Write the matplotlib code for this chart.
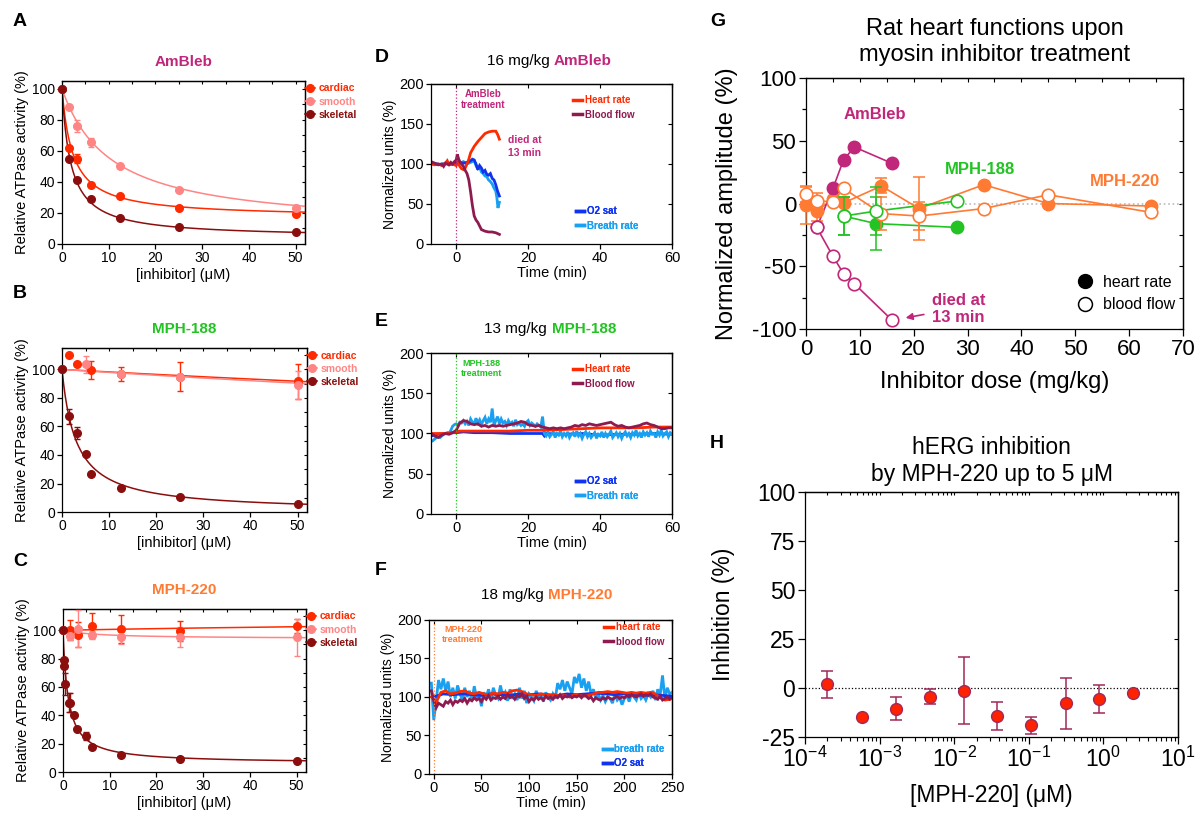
import numpy as np
import matplotlib
matplotlib.use("Agg")
import matplotlib.pyplot as plt
from matplotlib.lines import Line2D
from matplotlib.ticker import LogLocator, NullFormatter, MultipleLocator

plt.rcParams['font.family'] = ['Liberation Sans', 'DejaVu Sans']
plt.rcParams['mathtext.fontset'] = 'custom'
plt.rcParams['mathtext.rm'] = 'Liberation Sans'
plt.rcParams['mathtext.it'] = 'Liberation Sans:italic'
plt.rcParams['mathtext.bf'] = 'Liberation Sans:bold'
plt.rcParams['axes.linewidth'] = 0.9
plt.rcParams['axes.unicode_minus'] = False

# ─── colours ───────────────────────────────────────────────────────────────
C_AMB, C_188, C_220 = '#C0267A', '#22C322', '#FF7A33'
C_CARD, C_SMOOTH, C_SKEL = '#FF2A00', '#FF8585', '#8B0E0E'
C_HR, C_BF, C_O2, C_BR = '#FF2A00', '#8E1B50', '#1033F0', '#1AA0F0'

# ─── A: AmBleb ATPase ──────────────────────────────────────────────────────
a_conc = [0, 1.5625, 3.125, 6.25, 12.5, 25, 50]
a_card = [100, 62, 55, 38, 31, 23, 19]
a_card_err = [0, 0, 3, 0, 0, 0, 0]
a_smooth = [100, 88.5, 76, 65.5, 50, 35, 23]
a_smooth_err = [0, 0, 4, 3, 0, 0, 2]
a_skel = [100, 55, 41.5, 29, 16.5, 11, 7.5]
a_skel_err = [0, 0, 0, 0, 0, 0, 0]
# fit parameters (top, bottom, IC50)
a_card_fit = (100, 17, 2.3)
a_smooth_fit = (100, 9, 10.5)
a_skel_fit = (100, 4, 1.9)

# ─── B: MPH-188 ATPase ─────────────────────────────────────────────────────
b_card_conc = [0, 1.5625, 3.125, 6.25, 12.5, 25, 50]
b_card = [100, 110, 103.5, 99.5, 96.7, 95, 91.6]
b_card_err = [0, 0, 0, 6.5, 5, 10, 12]
b_smooth_conc = [0, 5, 12.5, 25, 50]
b_smooth = [100, 103.5, 97, 95, 89]
b_smooth_err = [0, 6, 0, 0, 10]
b_skel_conc = [0, 1.5625, 3.125, 5, 6.25, 12.5, 25, 50]
b_skel = [100, 67, 55.5, 41, 27, 16.5, 10.5, 5.5]
b_skel_err = [0, 5, 4, 0, 0, 0, 0, 0]
b_card_fit = (100, 0, 553)
b_smooth_fit = (100, 0, 468)
b_skel_fit = (100, 0, 3.0)

# ─── C: MPH-220 ATPase ─────────────────────────────────────────────────────
c_conc = [0, 1.5625, 3.125, 6.25, 12.5, 25, 50]
c_card = [100, 100, 97, 103.3, 100.7, 99.5, 103]
c_card_err = [0, 7, 9, 9, 10, 7, 5]
c_smooth = [100, 96, 101, 96.5, 95, 95.3, 95]
c_smooth_err = [0, 3, 13, 3, 5, 7, 13]
c_skel_conc = [0, 0.15, 0.3, 0.5, 1.3, 1.6, 2.4, 3.1, 5, 6.25, 12.5, 25, 50]
c_skel = [100, 79, 74.5, 62, 49, 49, 40, 30.5, 25.5, 18, 12, 9, 8]
c_skel_err = [0, 0, 0, 8, 7, 7, 0, 0, 3, 0, 0, 0, 0]
c_card_fit = (100, 110, 150)
c_smooth_fit = (100, 94, 8)
c_skel_fit = (100, 6, 1.1)

# ─── D: 16 mg/kg AmBleb, traces ────────────────────────────────────────────
d_hr_t = [-7, -6, -5, -4, -3, -2.5, -2, -1, 0, 0.5, 1, 1.5, 2, 2.5, 3, 3.5,
          4, 5, 6, 7, 8, 9, 10, 11, 11.5, 12]
d_hr = [100, 99, 100, 98, 101, 104, 99, 100, 98, 102, 97, 94, 93, 95, 100, 106,
        114, 122, 128, 133, 138, 140, 141, 141, 137, 131]
d_bf_t = [-7, -6, -5, -4, -3.5, -3, -2, -1.5, -1, -0.5, 0, 0.3, 0.7, 1, 1.5, 2,
          2.5, 3, 3.5, 4, 4.5, 5, 5.5, 6, 7, 8, 9, 10, 11, 12]
d_bf = [103, 101, 99, 100, 97, 101, 99, 102, 100, 103, 105, 112, 106, 103, 100, 97,
        92, 88, 80, 65, 48, 35, 30, 27, 18, 16, 15, 15, 14, 12]
d_o2_t = [-7, -6, -5, -4, -3, -2, -1, 0, 1, 2, 3, 4, 4.5, 5, 5.5, 6, 6.5, 7,
          7.5, 8, 8.5, 9, 9.5, 10, 10.5, 11, 11.5, 12]
d_o2 = [101, 100, 100, 99, 100, 101, 100, 101, 102, 101, 102, 104, 106, 105, 100, 93, 98, 95,
        90, 92, 87, 86, 88, 82, 80, 74, 66, 60]
d_br_t = [-7, -6, -5, -4, -3, -2, -1, 0, 1, 2, 3, 4, 5, 5.5, 6, 6.5, 7, 7.5,
          8, 8.5, 9, 9.5, 10, 10.5, 11, 11.3, 11.6, 12]
d_br = [100, 101, 99, 100, 101, 99, 100, 102, 101, 103, 100, 102, 104, 98, 94, 96, 90, 88,
        85, 84, 80, 78, 75, 70, 66, 58, 45, 52]

# ─── E: 13 mg/kg MPH-188, traces ───────────────────────────────────────────
e_hr_t = [-7, -5, -3, -1, 0, 1, 5, 10, 15, 20, 25, 30, 35, 40, 45, 50, 55, 60]
e_hr = [100, 100, 100, 101, 102, 103, 103, 103, 103, 104, 104, 105, 106, 107, 107, 107, 108, 108]
e_bf_t0, e_bf_dt = -7, 1.0
e_bf = [100, 97, 95, 98, 100, 99, 101, 104, 113, 116, 115, 112, 111, 112, 109, 110,
        108, 110, 109, 110, 109, 110, 111, 112, 113, 115, 114, 111, 110, 109, 110, 108,
        107, 106, 107, 106, 107, 106, 107, 108, 110, 109, 111, 110, 112, 111, 110, 111,
        112, 113, 114, 111, 109, 110, 108, 107, 108, 109, 110, 112, 113, 111, 110, 108,
        106, 106, 107, 107]
e_o2_t = [-7, -6, -5, -3, -1, 0, 2, 5, 10, 15, 20, 24, 24.5, 25, 30, 35, 40, 45, 50, 55, 60]
e_o2 = [97, 98, 99, 100, 101, 101, 102, 101, 101, 100, 100, 100, 97, 100, 99, 100, 98, 99, 99, 100, 99]
e_br_t0, e_br_dt = -7, 0.5
e_br = [90, 91, 93, 95, 96, 95, 97, 99, 100, 101, 100, 104, 109, 111,
        112, 110, 114, 113, 116, 112, 115, 110, 118, 114, 112, 119, 113, 117, 111, 116, 120, 112, 118, 114,
        131, 110, 116, 121, 112, 118, 113, 115, 110, 116, 112, 114, 109, 117, 111, 113, 110, 112, 109, 114,
        116, 110, 113, 111, 109, 112, 110, 108, 121, 100, 97, 101, 96, 99, 102, 95, 100, 98, 103, 96,
        100, 97, 102, 95, 99, 101, 96, 103, 97, 100, 94, 99, 102, 96, 100, 95, 98, 101, 94, 99,
        97, 102, 95, 100, 96, 99, 103, 95, 98, 101, 96, 100, 94, 99, 102, 97, 100, 95, 101, 98,
        104, 97, 100, 95, 102, 98, 101, 96, 103, 99, 100, 95, 102, 98, 104, 97, 100, 102, 96, 101, 99]

# ─── F: 18 mg/kg MPH-220, traces ───────────────────────────────────────────
f_br_t0, f_br_dt = -2.5, 2.5
f_br = [118, 70, 95, 122, 110, 124, 108, 120, 100, 112, 98,
        115, 104, 96, 112, 100, 108, 95, 114, 98, 104,
        88, 106, 100, 110, 96, 112, 102, 98, 115, 100,
        106, 95, 110, 100, 104, 96, 112, 98, 108, 92,
        104, 100, 95, 108, 98, 102, 94, 106, 100, 96,
        104, 98, 118, 110, 122, 108, 120, 112, 104, 126,
        118, 130, 112, 124, 108, 120, 104, 110, 98, 104,
        96, 102, 94, 100, 98, 92, 104, 96, 100, 90,
        98, 102, 94, 104, 100, 96, 106, 98, 102, 96,
        104, 100, 108, 96, 110, 102, 128, 98, 112, 104, 106]
f_o2_t0, f_o2_dt = 0, 10
f_o2 = [100, 104, 103, 104, 103, 102, 104, 103, 102, 104, 103, 104, 103, 102, 104, 103,
        104, 105, 104, 103, 104, 103, 102, 103, 102, 101]
f_hr_t0, f_hr_dt = -2.5, 5
f_hr = [100, 93, 106, 108, 104, 105, 107, 108, 105, 104, 106, 104, 103, 105, 104, 106,
        105, 108, 109, 107, 104, 103, 102, 104, 103, 102, 103, 101, 102, 100, 103, 102,
        101, 102, 104, 106, 106, 107, 106, 107, 106, 105, 106, 105, 106, 105, 106, 104,
        99, 96, 97]
f_bf_t0, f_bf_dt = -2.5, 2.5
f_bf = [108, 95, 86, 92, 90, 88, 94, 92, 96, 90, 95,
        93, 96, 94, 98, 92, 97, 95, 99, 96, 98,
        94, 100, 97, 102, 96, 99, 98, 101, 97, 100,
        98, 103, 99, 101, 97, 102, 100, 104, 98, 101,
        94, 98, 96, 100, 97, 99, 96, 101, 98, 100,
        97, 101, 99, 103, 98, 101, 100, 102, 99, 101,
        100, 102, 99, 103, 101, 98, 100, 95, 99, 97,
        96, 99, 97, 100, 98, 97, 99, 101, 98, 100,
        99, 102, 100, 103, 101, 100, 102, 104, 101, 103,
        102, 104, 100, 99, 97, 101, 96, 98, 100, 97, 99]

# ─── G: rat heart functions ────────────────────────────────────────────────
amb_dose = [2, 5, 7, 9, 16]
amb_hr = [-19, 12, 35, 45, 32]
amb_bf = [-19, -42, -56, -64, -93]
m188_dose = [7, 13, 28]
m188_hr = [-10, -16, -19]
m188_hr_err = [15, 21, 0]
m188_bf = [-10, -6, 2]
m188_bf_err = [15, 19, 0]
m220_dose = [0, 2, 5, 7, 14, 21, 33, 45, 64]
m220_hr = [-1, -6, 3.5, 0.5, 14, -4, 15, 0, -2]
m220_hr_err = [15, 8, 0, 0, 6, 25, 0, 0, 0]
m220_bf = [7.5, 2, 1.5, 12, -8, -10, -4, 7, -7]
m220_bf_err = [6, 6, 0, 0, 13, 11, 0, 0, 0]

# ─── H: hERG ───────────────────────────────────────────────────────────────
herg_conc = [2.0e-4, 5.8e-4, 1.68e-3, 4.7e-3, 1.35e-2, 3.8e-2, 0.107, 0.313, 0.88, 2.49]
herg_inh = [1.9, -14.8, -10.5, -4.4, -1.4, -14.3, -19, -7.7, -5.6, -2.4]
herg_err = [7, 0, 6, 3.8, 17, 7.2, 4.3, 13, 7.3, 0]


def hill(x, top, bottom, ic50):
    return bottom + (top - bottom) / (1 + x / ic50)


def box_ticks(ax, xt, yt, length=3):
    """inward ticks on the top/right spines"""
    t = ax.secondary_xaxis('top')
    t.set_xticks(xt)
    t.set_xticklabels([])
    t.tick_params(direction='in', length=length, width=0.8)
    r = ax.secondary_yaxis('right')
    r.set_yticks(yt)
    r.set_yticklabels([])
    r.tick_params(direction='in', length=length, width=0.8)


def err_points(ax, x, y, e, color, ms, mfc=None, capsize=2.5, lw=1.0, mew=1.0, z=3):
    x, y, e = np.asarray(x, float), np.asarray(y, float), np.asarray(e, float)
    m = e > 0
    if m.any():
        ax.errorbar(x[m], y[m], yerr=e[m], fmt='none', ecolor=color, elinewidth=lw,
                    capsize=capsize, capthick=lw, clip_on=False, zorder=z)
    ax.plot(x, y, 'o', color=color, ms=ms, mfc=mfc if mfc else color, mew=mew,
            clip_on=False, zorder=z + 0.5)


fig = plt.figure(figsize=(11.99, 8.13), dpi=100)


# ─── ATPase panels A/B/C ───────────────────────────────────────────────────
def atpase_panel(rect, title, tcolor, series, ylim):
    ax = fig.add_axes(rect)
    xs = np.linspace(0, 52, 300)
    for label, color, conc, vals, errs, fit in series:
        ax.plot(xs, hill(xs, *fit), color=color, lw=1.1, zorder=2)
        err_points(ax, conc, vals, errs, color, ms=5.5)
    ax.set_xlim(0, 52)
    ax.set_ylim(*ylim)
    ax.set_xticks([0, 10, 20, 30, 40, 50])
    ax.set_yticks([0, 20, 40, 60, 80, 100])
    ax.tick_params(labelsize=10, length=3.5, width=0.9, pad=1.5)
    ax.set_xlabel('[inhibitor] (μM)', fontsize=10.5, labelpad=2)
    ax.set_ylabel('Relative ATPase activity (%)', fontsize=10.5, labelpad=2)
    ax.set_title(title, color=tcolor, fontsize=11, fontweight='bold', pad=11)
    box_ticks(ax, np.arange(0, 51, 5), np.arange(0, ylim[1], 10), length=2.5)
    handles = [Line2D([], [], color=c, marker='o', ms=5.5, lw=1.2, label=lab)
               for lab, c, *_ in series]
    ax.legend(handles=handles, loc='upper left', bbox_to_anchor=(1.0, 0.985),
              frameon=False, borderpad=0, borderaxespad=0, handlelength=1.0,
              handletextpad=0.35, labelspacing=0.3, labelcolor='linecolor',
              prop={'weight': 'bold', 'size': 7.5})
    return ax


atpase_panel([0.0517, 0.6999, 0.2027, 0.2005], 'AmBleb', C_AMB, [
    ('cardiac', C_CARD, a_conc, a_card, a_card_err, a_card_fit),
    ('smooth', C_SMOOTH, a_conc, a_smooth, a_smooth_err, a_smooth_fit),
    ('skeletal', C_SKEL, a_conc, a_skel, a_skel_err, a_skel_fit),
], (0, 105))
atpase_panel([0.0517, 0.3702, 0.2043, 0.2017], 'MPH-188', C_188, [
    ('cardiac', C_CARD, b_card_conc, b_card, b_card_err, b_card_fit),
    ('smooth', C_SMOOTH, b_smooth_conc, b_smooth, b_smooth_err, b_smooth_fit),
    ('skeletal', C_SKEL, b_skel_conc, b_skel, b_skel_err, b_skel_fit),
], (0, 115))
atpase_panel([0.0525, 0.0504, 0.2027, 0.2005], 'MPH-220', C_220, [
    ('cardiac', C_CARD, c_conc, c_card, c_card_err, c_card_fit),
    ('smooth', C_SMOOTH, c_conc, c_smooth, c_smooth_err, c_smooth_fit),
    ('skeletal', C_SKEL, c_skel_conc, c_skel, c_skel_err, c_skel_fit),
], (0, 115))


# ─── trace panels D/E/F ────────────────────────────────────────────────────
def series_t(t0, dt, vals):
    return t0 + dt * np.arange(len(vals))


def trace_panel(rect, traces, xlim, xticks, dose, drug, dcolor, split, ty,
                trt_xy, trt_size, leg1, leg2):
    ax = fig.add_axes(rect)
    for t, y, c in traces:
        ax.plot(t, y, color=c, lw=2.0, solid_joinstyle='miter')
    ax.axvline(0, color=dcolor, lw=0.9, ls=':')
    ax.set_xlim(*xlim)
    ax.set_ylim(0, 200)
    ax.set_xticks(xticks)
    ax.set_yticks([0, 50, 100, 150, 200])
    ax.tick_params(labelsize=10.5, length=3.5, width=0.9, pad=1.5)
    ax.set_xlabel('Time (min)', fontsize=10.5, labelpad=1)
    ax.set_ylabel('Normalized units (%)', fontsize=10, labelpad=2)
    box_ticks(ax, xticks, [0, 50, 100, 150, 200])
    ax.text(split - 0.018, ty, dose, transform=ax.transAxes, ha='right',
            va='center', fontsize=11)
    ax.text(split, ty, drug, transform=ax.transAxes, ha='left', va='center',
            fontsize=11, fontweight='bold', color=dcolor)
    ax.text(trt_xy[0], trt_xy[1], drug + '\ntreatment', transform=ax.transAxes,
            ha='center', va='center', fontsize=trt_size, fontweight='bold',
            color=dcolor, linespacing=1.1)
    for labs, anchor in (leg1, leg2):
        hs = [Line2D([], [], color=c, lw=2.5, label=l) for l, c in labs]
        lg = ax.legend(handles=hs, loc='upper left', bbox_to_anchor=anchor,
                       frameon=False, borderpad=0, borderaxespad=0, handlelength=0.9,
                       handletextpad=0.3, labelspacing=0.45, labelcolor='linecolor',
                       prop={'weight': 'bold', 'size': 7})
        ax.add_artist(lg)
    return ax


axd = trace_panel([0.3595, 0.6999, 0.2010, 0.1968],
                  [(d_br_t, d_br, C_BR), (d_o2_t, d_o2, C_O2), (d_hr_t, d_hr, C_HR),
                   (d_bf_t, d_bf, C_BF)],
                  (-7, 60), [0, 20, 40, 60], '16 mg/kg', 'AmBleb', C_AMB, 0.51, 1.146,
                  (0.215, 0.905), 7,
                  ([('Heart rate', C_HR), ('Blood flow', C_BF)], (0.59, 0.93)),
                  ([('O2 sat', C_O2), ('Breath rate', C_BR)], (0.60, 0.235)))
axd.text(0.32, 0.61, 'died at\n13 min', transform=axd.transAxes, ha='left', va='center',
         fontsize=7.5, fontweight='bold', color=C_AMB, linespacing=1.4)

trace_panel([0.3595, 0.3678, 0.2010, 0.1980],
            [(e_o2_t, e_o2, C_O2), (series_t(e_br_t0, e_br_dt, e_br), e_br, C_BR),
             (e_hr_t, e_hr, C_HR), (series_t(e_bf_t0, e_bf_dt, e_bf), e_bf, C_BF)],
            (-7, 60), [0, 20, 40, 60], '13 mg/kg', 'MPH-188', C_188, 0.50, 1.147,
            (0.21, 0.905), 6.5,
            ([('Heart rate', C_HR), ('Blood flow', C_BF)], (0.59, 0.93)),
            ([('O2 sat', C_O2), ('Breath rate', C_BR)], (0.60, 0.235)))

trace_panel([0.3578, 0.0480, 0.2027, 0.1894],
            [(series_t(f_br_t0, f_br_dt, f_br), f_br, C_BR),
             (series_t(f_o2_t0, f_o2_dt, f_o2), f_o2, C_O2),
             (series_t(f_hr_t0, f_hr_dt, f_hr), f_hr, C_HR),
             (series_t(f_bf_t0, f_bf_dt, f_bf), f_bf, C_BF)],
            (-5, 250), [0, 50, 100, 150, 200, 250], '18 mg/kg', 'MPH-220', C_220, 0.49,
            1.162, (0.14, 0.908), 6.5,
            ([('heart rate', C_HR), ('blood flow', C_BF)], (0.72, 0.985)),
            ([('breath rate', C_BR), ('O2 sat', C_O2)], (0.715, 0.195)))

# ─── G ─────────────────────────────────────────────────────────────────────
axg = fig.add_axes([0.6722, 0.5953, 0.3144, 0.3087])
axg.axhline(0, color='#BBBBBB', lw=1.2, ls=':', zorder=1)
for dose, hr, hre, bf, bfe, c in [
        (m220_dose, m220_hr, m220_hr_err, m220_bf, m220_bf_err, C_220),
        (m188_dose, m188_hr, m188_hr_err, m188_bf, m188_bf_err, C_188),
        (amb_dose, amb_hr, [0] * len(amb_dose), amb_bf, [0] * len(amb_dose), C_AMB)]:
    axg.plot(dose, hr, '-', color=c, lw=1.2, zorder=2)
    axg.plot(dose, bf, '-', color=c, lw=1.2, zorder=2)
    err_points(axg, dose, hr, hre, c, ms=9, capsize=4, lw=1.1, z=3)
    err_points(axg, dose, bf, bfe, c, ms=9, mfc='white', capsize=4, lw=1.1, mew=1.2, z=4)
axg.set_xlim(0, 70)
axg.set_ylim(-100, 100)
axg.set_xticks(np.arange(0, 71, 10))
axg.set_yticks([-100, -50, 0, 50, 100])
axg.yaxis.set_minor_locator(MultipleLocator(25))
axg.tick_params(labelsize=16, length=5, width=0.9, pad=2)
axg.tick_params(which='minor', length=3, width=0.9)
axg.set_xlabel('Inhibitor dose (mg/kg)', fontsize=17, labelpad=8)
axg.set_ylabel('Normalized amplitude (%)', fontsize=17, labelpad=10)
axg.set_title('Rat heart functions upon\nmyosin inhibitor treatment', fontsize=17, pad=12,
              linespacing=1.25)
box_ticks(axg, np.arange(0, 71, 5), np.arange(-100, 101, 25))
axg.text(7, 71, 'AmBleb', color=C_AMB, fontsize=12, fontweight='bold', va='center')
axg.text(25.8, 27, 'MPH-188', color=C_188, fontsize=12, fontweight='bold', va='center')
axg.text(52.7, 17.4, 'MPH-220', color=C_220, fontsize=12, fontweight='bold', va='center')
axg.text(23.4, -84, 'died at\n13 min', color=C_AMB, fontsize=12, fontweight='bold',
         va='center', ha='left', linespacing=1.2)
axg.annotate('', xy=(18.0, -91.5), xytext=(22.4, -88),
             arrowprops=dict(arrowstyle='-|>', color=C_AMB, lw=1.2, mutation_scale=10))
gh = [Line2D([], [], marker='o', ls='none', color='black', ms=10, label='heart rate'),
      Line2D([], [], marker='o', ls='none', color='black', mfc='white', ms=10, mew=1.1,
             label='blood flow')]
axg.legend(handles=gh, loc='upper left', bbox_to_anchor=(0.715, 0.215), frameon=False,
           borderpad=0, borderaxespad=0, handlelength=1.2, handletextpad=0.5,
           labelspacing=0.45, fontsize=11.5)

# ─── H ─────────────────────────────────────────────────────────────────────
axh = fig.add_axes([0.6714, 0.0935, 0.3111, 0.3014])
axh.axhline(0, color='black', lw=0.9, ls=':', zorder=1)
hc = np.asarray(herg_conc)
he = np.asarray(herg_err, float)
m = he > 0
axh.errorbar(hc[m], np.asarray(herg_inh)[m], yerr=he[m], fmt='none', ecolor='#A0285A',
             elinewidth=1.1, capsize=4, capthick=1.1, zorder=2)
axh.plot(herg_conc, herg_inh, 'o', ms=8.5, mfc='#FF2200', mec='#A0285A', mew=1.0, zorder=3)
axh.set_xscale('log')
axh.set_xlim(1e-4, 10)
axh.set_ylim(-25, 100)
axh.set_yticks([-25, 0, 25, 50, 75, 100])
axh.xaxis.set_major_locator(LogLocator(base=10, numticks=10))
axh.xaxis.set_minor_locator(LogLocator(base=10, subs=np.arange(2, 10), numticks=20))
axh.xaxis.set_minor_formatter(NullFormatter())
axh.tick_params(labelsize=16.5, length=5, width=0.9, pad=2)
axh.tick_params(which='minor', length=3, width=0.8)
axh.set_xlabel('[MPH-220] (μM)', fontsize=16.5, labelpad=9)
axh.set_ylabel('Inhibition (%)', fontsize=16.5, labelpad=16)
axh.set_title('hERG inhibition\nby MPH-220 up to 5 μM', fontsize=16.5, pad=8,
              linespacing=1.2)
th = axh.secondary_xaxis('top')
th.xaxis.set_major_locator(LogLocator(base=10, numticks=10))
th.xaxis.set_minor_locator(LogLocator(base=10, subs=np.arange(2, 10), numticks=20))
th.xaxis.set_major_formatter(NullFormatter())
th.xaxis.set_minor_formatter(NullFormatter())
th.tick_params(which='both', direction='in', length=2.5, width=0.8)
rh = axh.secondary_yaxis('right')
rh.set_yticks([-25, 0, 25, 50, 75, 100])
rh.set_yticklabels([])
rh.tick_params(direction='in', length=3, width=0.8)

# ─── panel letters ─────────────────────────────────────────────────────────
for lab, x, y in [('A', 13, 22), ('B', 13, 294), ('C', 13, 561), ('D', 375, 58),
                  ('E', 375, 322), ('F', 375, 570), ('G', 710, 22), ('H', 710, 443)]:
    fig.text(x / 1199, 1 - y / 813, lab, fontsize=14, fontweight='bold',
             ha='left', va='center')

fig.savefig('out.png', dpi=100)
